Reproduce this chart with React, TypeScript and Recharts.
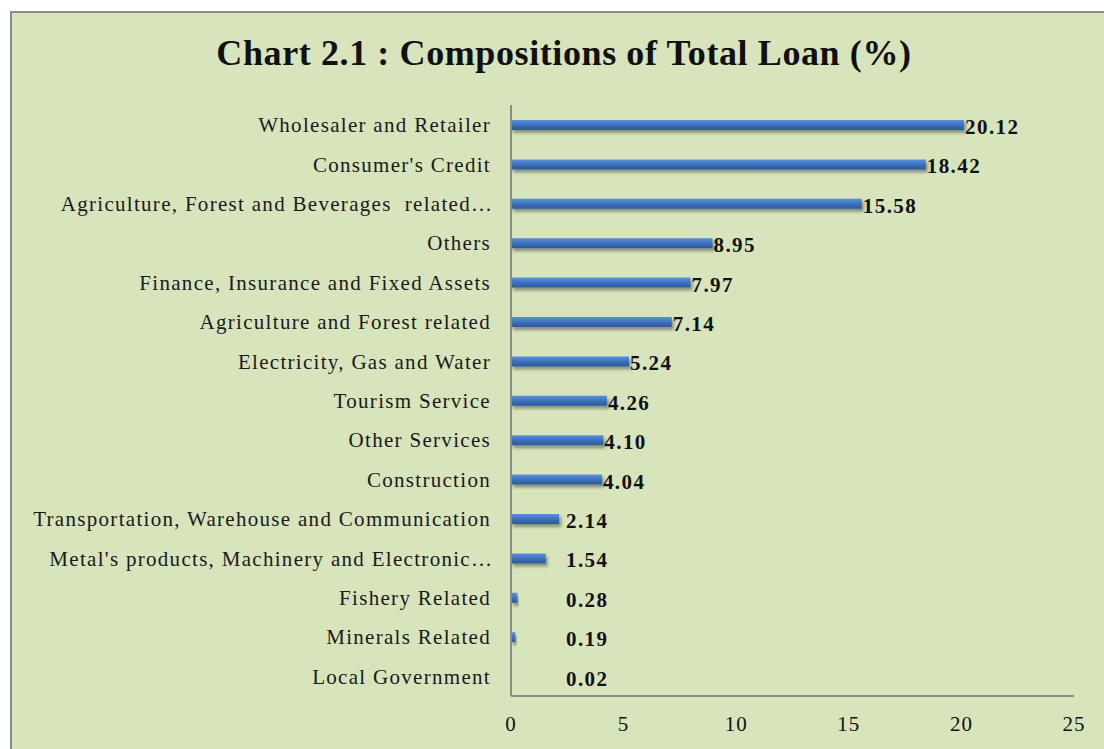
import React from 'react';
import { BarChart, Bar, XAxis, YAxis, LabelList } from 'recharts';

const categories = [
  'Wholesaler and Retailer',
  "Consumer's Credit",
  'Agriculture, Forest and Beverages  related…',
  'Others',
  'Finance, Insurance and Fixed Assets',
  'Agriculture and Forest related',
  'Electricity, Gas and Water',
  'Tourism Service',
  'Other Services',
  'Construction',
  'Transportation, Warehouse and Communication',
  "Metal's products, Machinery and Electronic…",
  'Fishery Related',
  'Minerals Related',
  'Local Government',
];

const values = [20.12, 18.42, 15.58, 8.95, 7.97, 7.14, 5.24, 4.26, 4.1, 4.04, 2.14, 1.54, 0.28, 0.19, 0.02];

const xTicks = [0, 5, 10, 15, 20, 25];

const data = categories.map((name, i) => ({ name, value: values[i] }));

const FONT = '"Liberation Serif", "Times New Roman", serif';

const ValueLabel = (props: any) => {
  const { x, y, width, height, value } = props;
  const end = Number(x) + Number(width);
  const tx = Math.max(end + 1, Number(x) + 55);
  return (
    <text
      x={tx}
      y={Number(y) + Number(height) / 2 + 2}
      dominantBaseline="central"
      textAnchor="start"
      fontFamily={FONT}
      fontWeight="bold"
      fontSize={21}
      letterSpacing={1.4}
      fill="#111"
    >
      {Number(value).toFixed(2)}
    </text>
  );
};

const CategoryTick = (props: any) => {
  const { x, y, payload } = props;
  const label = String(payload.value);
  const hasEllipsis = label.endsWith('…');
  const body = hasEllipsis ? label.slice(0, -1) : label;
  return (
    <text
      x={x}
      y={y}
      dy="0.355em"
      textAnchor="end"
      fontFamily={FONT}
      fontSize={21}
      fill="#1a1a1a"
      letterSpacing={1.3}
      style={{ whiteSpace: 'pre' }}
    >
      {body}
      {hasEllipsis ? <tspan letterSpacing={-1}>…</tspan> : null}
    </text>
  );
};

export default function App() {
  return (
    <div
      style={{
        position: 'absolute',
        left: 0,
        top: 0,
        width: 1104,
        height: 749,
        background: '#ffffff',
        overflow: 'hidden',
      }}
    >
      <div
        style={{
          position: 'absolute',
          left: 10,
          top: 11,
          width: 1120,
          height: 760,
          background: '#d8e4bc',
          borderLeft: '2px solid #8a8a8a',
          borderTop: '2px solid #8a8a8a',
          boxSizing: 'border-box',
        }}
      />
      <div
        style={{
          position: 'absolute',
          left: 10,
          width: 1108,
          top: 35,
          textAlign: 'center',
          fontFamily: FONT,
          fontWeight: 'bold',
          fontSize: 36,
          lineHeight: '36px',
          letterSpacing: 0.6,
          color: '#111',
          whiteSpace: 'nowrap',
        }}
      >
        Chart 2.1 : Compositions of Total Loan (%)
      </div>
      <div style={{ position: 'absolute', left: 0, top: 0 }}>
        <BarChart
          width={1104}
          height={749}
          data={data}
          layout="vertical"
          margin={{ top: 105, right: 30, bottom: 0, left: 0 }}
          barCategoryGap={0}
        >
          <defs>
            <linearGradient id="barGrad" x1="0" y1="0" x2="0" y2="1">
              <stop offset="0%" stopColor="#5b90da" />
              <stop offset="45%" stopColor="#3f74c2" />
              <stop offset="100%" stopColor="#2c5997" />
            </linearGradient>
            <filter id="barShadow" x="-10%" y="-50%" width="130%" height="250%">
              <feDropShadow dx="2" dy="3" stdDeviation="1.6" floodColor="#000" floodOpacity="0.35" />
            </filter>
          </defs>
          <XAxis
            type="number"
            domain={[0, 25]}
            ticks={xTicks}
            height={53}
            axisLine={{ stroke: '#8c8c8c', strokeWidth: 2 }}
            tickLine={false}
            tickSize={0}
            tickMargin={20}
            tick={{ fontFamily: FONT, fontSize: 21, fill: '#111', letterSpacing: 1 }}
            interval={0}
          />
          <YAxis
            type="category"
            dataKey="name"
            width={511}
            axisLine={{ stroke: '#8c8c8c', strokeWidth: 2 }}
            tickLine={false}
            tickSize={0}
            tickMargin={20}
            interval={0}
            tick={<CategoryTick />}
          />
          <Bar
            dataKey="value"
            barSize={10}
            fill="url(#barGrad)"
            filter="url(#barShadow)"
            isAnimationActive={false}
          >
            <LabelList dataKey="value" content={ValueLabel} />
          </Bar>
        </BarChart>
      </div>
    </div>
  );
}
